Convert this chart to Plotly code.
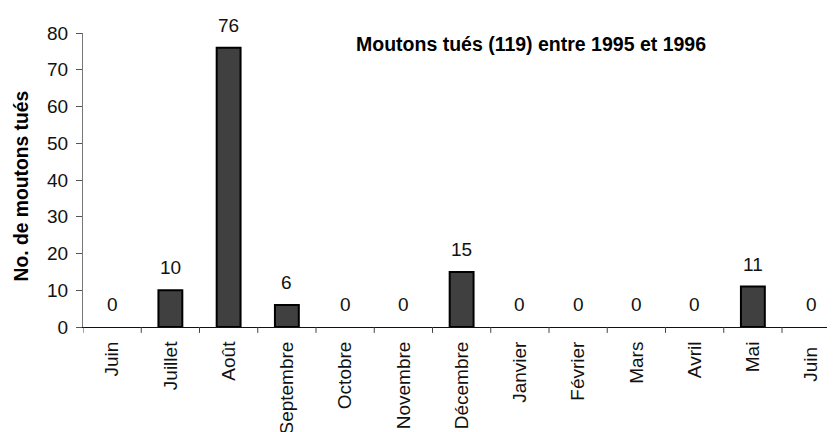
import plotly.graph_objects as go

months = ["Juin", "Juillet", "Août", "Septembre", "Octobre", "Novembre", "Décembre",
          "Janvier", "Février", "Mars", "Avril", "Mai", "Juin "]
killed = [0, 10, 76, 6, 0, 0, 15, 0, 0, 0, 0, 11, 0]
title_text = "Moutons tués (119) entre 1995 et 1996"
y_title = "No. de moutons tués"
y_ticks = [0, 10, 20, 30, 40, 50, 60, 70, 80]

FONT = "Liberation Sans, Arial, sans-serif"

fig = go.Figure()
fig.add_trace(go.Bar(
    x=list(range(len(months))), y=killed, width=0.41,
    marker=dict(color="#404040",
                line=dict(color="black", width=[2 if v > 0 else 0 for v in killed])),
    hoverinfo="skip",
))

for i, v in enumerate(killed):
    fig.add_annotation(x=i, y=v, text=str(v), showarrow=False, yanchor="bottom",
                       yshift=10, font=dict(family=FONT, size=19, color="#111"))

fig.add_annotation(xref="paper", yref="paper", x=0.596, y=0.961, text="<b>%s</b>" % title_text,
                   showarrow=False, xanchor="center", yanchor="middle",
                   font=dict(family=FONT, size=19.5, color="black"))

fig.add_annotation(xref="paper", yref="paper", x=-0.0824, y=0.478, text="<b>%s</b>" % y_title,
                   showarrow=False, xanchor="center", yanchor="middle", textangle=-90,
                   font=dict(family=FONT, size=19.3, color="black"))

# page body has an 8px default margin; offset plot margins to compensate
fig.update_layout(
    width=835, height=432,
    margin=dict(l=75, r=8, t=25, b=113),
    paper_bgcolor="white", plot_bgcolor="white",
    showlegend=False,
    font=dict(family=FONT, size=19, color="#111"),
    xaxis=dict(
        tickmode="array", tickvals=list(range(len(months))), ticktext=months,
        range=[-0.5, 12.41], tickangle=-90, automargin=False,
        showline=True, linecolor="#111", linewidth=1,
        showgrid=False, zeroline=False, ticks="", ticklabelstandoff=6,
        tickfont=dict(family=FONT, size=19, color="#111"),
    ),
    yaxis=dict(
        range=[0, 80], tickvals=y_ticks, automargin=False,
        showline=True, linecolor="#777", linewidth=1,
        ticks="outside", ticklen=6, tickcolor="#555", ticklabelstandoff=4,
        showgrid=False, zeroline=False,
        tickfont=dict(family=FONT, size=19, color="#111"),
    ),
)

# tick marks between categories on the x axis
for b in [i + 0.5 for i in range(-1, len(months))]:
    fig.add_shape(type="line", xref="x", yref="paper", x0=b, x1=b, y0=0, y1=-0.02,
                  line=dict(color="#444", width=1))

fig.write_html("out.html")
